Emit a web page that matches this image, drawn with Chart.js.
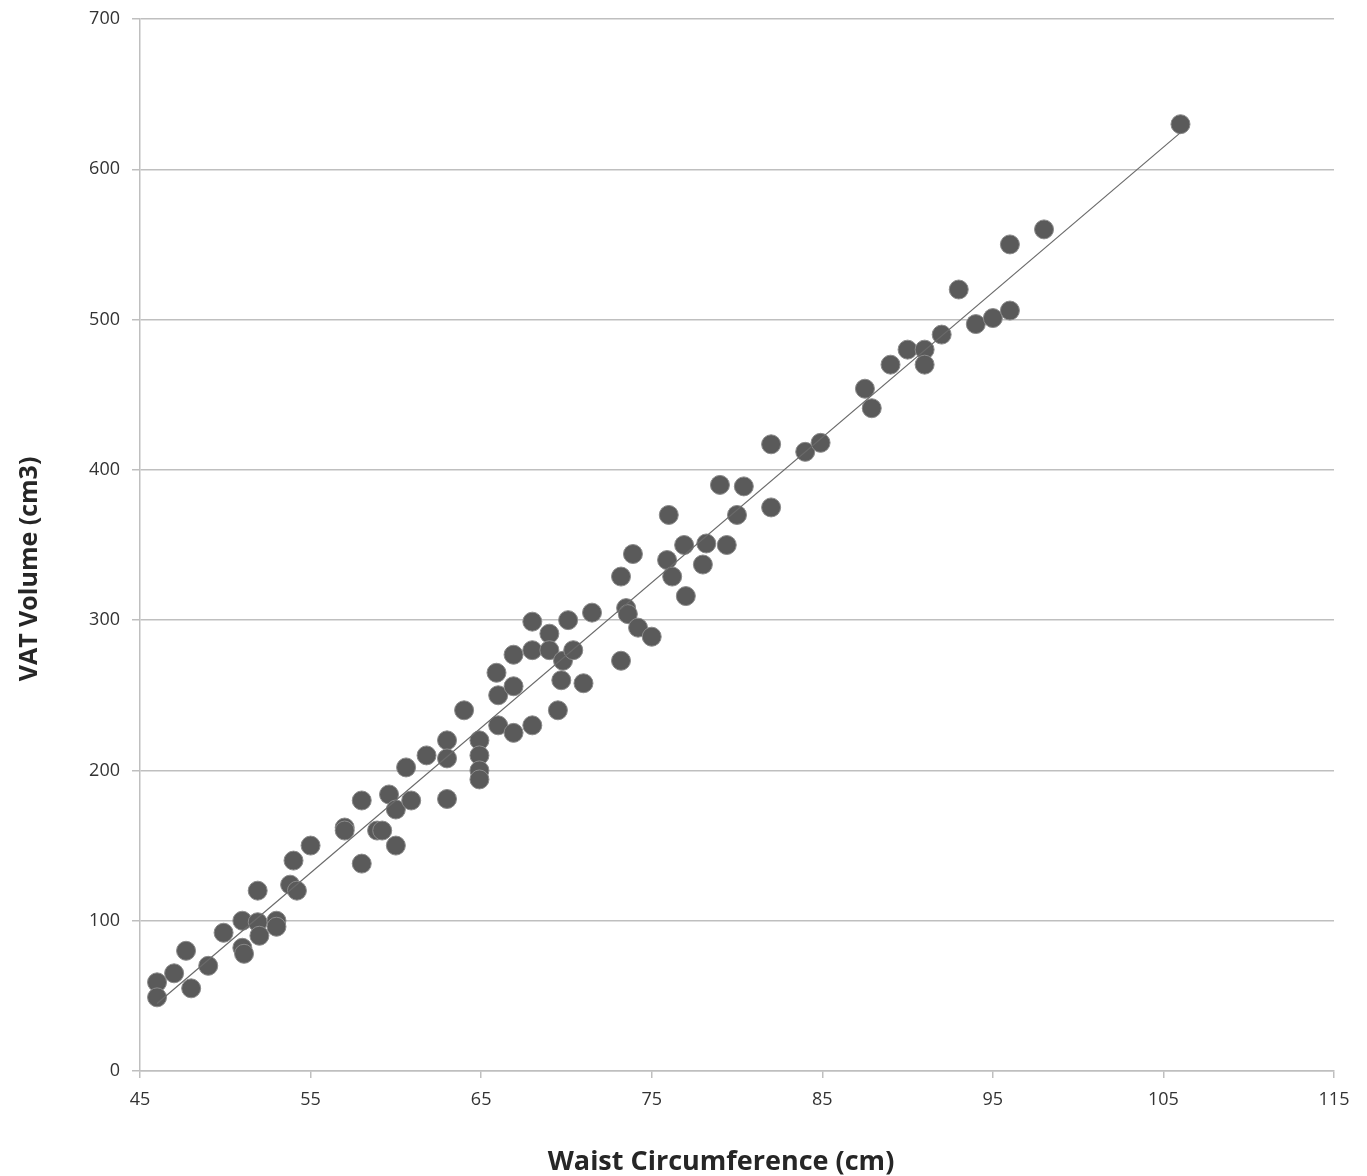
<!DOCTYPE html>
<html>
<head>
<meta charset="utf-8">
<title>VAT Volume vs Waist Circumference</title>
<script src="https://cdn.jsdelivr.net/npm/chart.js@4.4.1/dist/chart.umd.min.js"></script>
<style>
  html, body { margin: 0; padding: 0; background: #ffffff; }
  .wrap { width: 1367px; height: 1176px; position: relative; }
</style>
</head>
<body>
<div class="wrap"><canvas id="scatterChart"></canvas></div>
<script>
// Waist circumference (cm) for each subject
const waist = [
  46.0, 46.0, 47.0, 47.7, 48.0, 49.0, 49.9, 51.0, 51.0, 51.1,
  51.9, 51.9, 52.0, 53.0, 53.0, 53.8, 54.0, 54.2, 55.0, 57.0,
  57.0, 58.0, 58.0, 58.9, 59.2, 59.6, 60.0, 60.0, 60.9, 60.6,
  61.8, 63.0, 63.0, 63.0, 64.0, 64.9, 64.9, 64.9, 64.9, 65.9,
  66.0, 66.0, 66.9, 66.9, 66.9, 68.0, 68.0, 68.0, 69.0, 69.0,
  69.5, 69.7, 69.8, 70.1, 70.4, 71.0, 71.5, 73.2, 73.2, 73.5,
  73.6, 73.9, 74.2, 75.0, 76.0, 75.9, 76.2, 76.9, 77.0, 78.0,
  78.2, 79.0, 79.4, 80.0, 80.4, 82.0, 82.0, 84.0, 84.9, 87.5,
  87.9, 89.0, 90.0, 91.0, 91.0, 92.0, 93.0, 94.0, 95.0, 96.0,
  96.0, 98.0, 106.0
];
// VAT volume (cm3) for each subject, same order
const vat = [
  59, 49, 65, 80, 55, 70, 92, 100, 82, 78,
  120, 99, 90, 100, 96, 124, 140, 120, 150, 162,
  160, 180, 138, 160, 160, 184, 174, 150, 180, 202,
  210, 220, 208, 181, 240, 220, 210, 200, 194, 265,
  250, 230, 277, 256, 225, 299, 280, 230, 291, 280,
  240, 260, 273, 300, 280, 258, 305, 329, 273, 308,
  304, 344, 295, 289, 370, 340, 329, 350, 316, 337,
  351, 390, 350, 370, 389, 417, 375, 412, 418, 454,
  441, 470, 480, 480, 470, 490, 520, 497, 501, 550,
  506, 560, 630
];
const xTicks = [45, 55, 65, 75, 85, 95, 105, 115];
const yTicks = [0, 100, 200, 300, 400, 500, 600, 700];
const xTitle = 'Waist Circumference (cm)';
const yTitle = 'VAT Volume (cm3)';

// least squares trend line (like the spreadsheet linear trendline)
function linearFit(xs, ys) {
  const n = xs.length;
  let sx = 0, sy = 0, sxx = 0, sxy = 0;
  for (let i = 0; i < n; i++) {
    sx += xs[i]; sy += ys[i];
    sxx += xs[i] * xs[i]; sxy += xs[i] * ys[i];
  }
  const slope = (n * sxy - sx * sy) / (n * sxx - sx * sx);
  const intercept = (sy - slope * sx) / n;
  return { slope, intercept };
}

const fit = linearFit(waist, vat);
const xMin = Math.min(...waist);
const xMax = Math.max(...waist);
const trend = [xMin, xMax].map(x => ({ x: x, y: fit.slope * x + fit.intercept }));
const points = waist.map((x, i) => ({ x: x, y: vat[i] }));

const gridGray = '#bfbfbf';
const tickFont = { family: 'Open Sans', size: 18 };

// axis titles sit a little off-centre in the original, so draw them by hand
const axisTitles = {
  id: 'axisTitles',
  afterDraw(chart) {
    const ctx = chart.ctx;
    ctx.save();
    ctx.fillStyle = '#262626';
    ctx.textAlign = 'center';
    ctx.textBaseline = 'alphabetic';
    ctx.font = 'bold 27px "Open Sans"';
    ctx.fillText(xTitle, 721, 1170);
    ctx.translate(37, 569);
    ctx.rotate(-Math.PI / 2);
    ctx.font = 'bold 25px "Open Sans"';
    ctx.fillText(yTitle, 0, 0);
    ctx.restore();
  }
};

new Chart(document.getElementById('scatterChart').getContext('2d'), {
  type: 'scatter',
  data: {
    datasets: [
      {
        label: 'VAT',
        data: points,
        backgroundColor: '#5a5a5a',
        borderColor: '#8a8a8a',
        borderWidth: 1,
        pointRadius: 9.5,
        order: 2
      },
      {
        label: 'Trend',
        type: 'line',
        data: trend,
        borderColor: '#6a6a6a',
        borderWidth: 1.2,
        pointRadius: 0,
        fill: false,
        order: 1
      }
    ]
  },
  options: {
    responsive: true,
    maintainAspectRatio: false,
    animation: false,
    layout: { padding: { top: 19, right: 33, left: 0, bottom: 0 } },
    plugins: {
      legend: { display: false },
      tooltip: { enabled: false }
    },
    scales: {
      x: {
        type: 'linear',
        min: 45,
        max: 115,
        afterBuildTicks: function(scale) {
          scale.ticks = xTicks.map(v => ({ value: v }));
        },
        afterFit: function(scale) {
          scale.height = 105;
          scale.paddingLeft = 0;
          scale.paddingRight = 0;
        },
        grid: {
          drawOnChartArea: false,
          drawTicks: true,
          tickLength: 7,
          color: gridGray,
          lineWidth: 1.5
        },
        border: { display: true, color: gridGray, width: 1.5 },
        ticks: { color: '#333333', font: tickFont, padding: 11, maxRotation: 0 }
      },
      y: {
        type: 'linear',
        min: 0,
        max: 700,
        afterBuildTicks: function(scale) {
          scale.ticks = yTicks.map(v => ({ value: v }));
        },
        afterFit: function(scale) {
          scale.width = 140;
          scale.paddingTop = 0;
          scale.paddingBottom = 0;
        },
        grid: {
          color: gridGray,
          lineWidth: 1.5,
          drawTicks: true,
          tickLength: 8
        },
        border: { display: true, color: gridGray, width: 1.5 },
        ticks: { color: '#333333', font: tickFont, padding: 12 }
      }
    }
  },
  plugins: [axisTitles]
});
</script>
</body>
</html>
